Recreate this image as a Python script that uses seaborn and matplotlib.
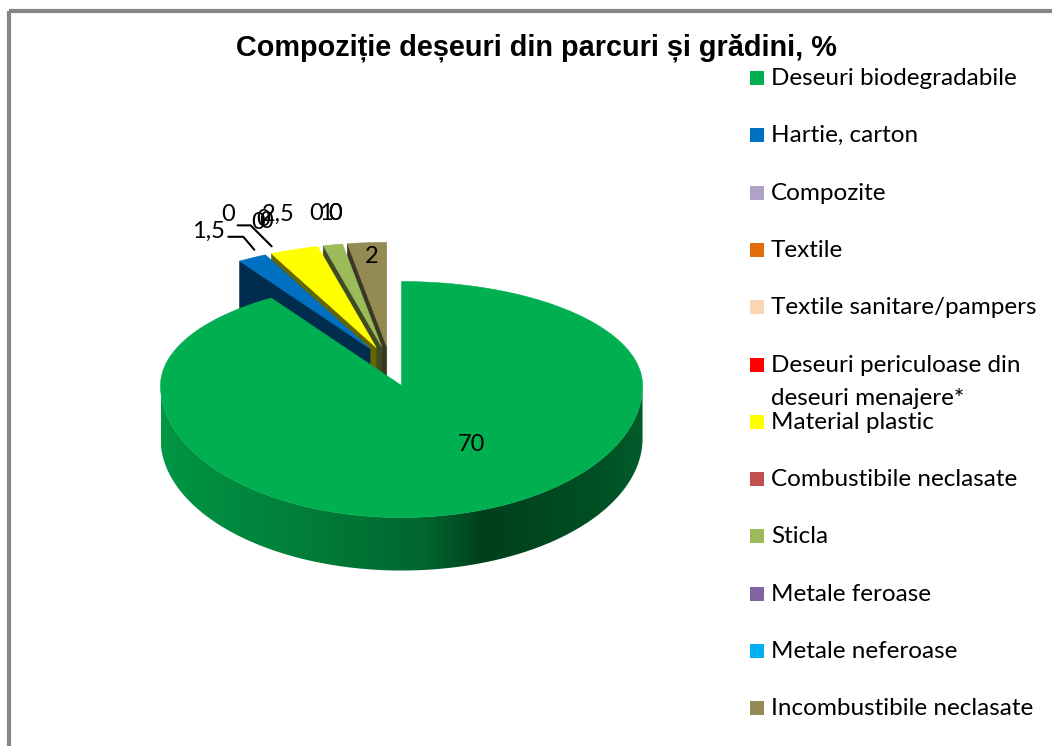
import numpy as np
import matplotlib
matplotlib.use("Agg")
import matplotlib.pyplot as plt
import matplotlib.colors as mcolors
from matplotlib.patches import Polygon, Rectangle
import seaborn as sns

# Data
categories = ["Deseuri biodegradabile", "Hartie, carton", "Compozite", "Textile",
              "Textile sanitare/pampers", "Deseuri periculoase din\ndeseuri menajere*",
              "Material plastic", "Combustibile neclasate", "Sticla", "Metale feroase",
              "Metale neferoase", "Incombustibile neclasate"]
values = [70, 1.5, 0, 0, 0, 0, 2.5, 0, 1, 0, 0, 2]
value_labels = ["70", "1,5", "0", "0", "0", "0", "2,5", "0", "1", "0", "0", "2"]
colors = ["#00B050", "#0070C0", "#B2A1C7", "#E46C0A", "#FCD5B5", "#FF0000",
          "#FFFF00", "#C0504D", "#9BBB59", "#8064A2", "#00B0F0", "#948A54"]
title = "Compoziție deșeuri din parcuri și grădini, %"

# label placement (pixels, relative to the rim point on each slice bisector)
label_nudge = [(2, -68), (-44, -26), (-40, -40), (-10, -32), (-5, -35), (-2, -33),
               (-16, -35), (-6, -32), (-7, -31), (-9, -30), (-9, -30), (5, 14)]
leaders = {1: "right", 3: "left"}

sns.set_theme(style="white")
plt.rcParams["font.family"] = ["Lato", "DejaVu Sans"]

W, H = 1052, 746
fig = plt.figure(figsize=(W / 100, H / 100), dpi=100)
ax = fig.add_axes([0, 0, 1, 1])

# outer frame
ax.add_patch(Rectangle((8.5, 11), W, H, fill=False, edgecolor="#868686", lw=3))

# pseudo 3D pie geometry
CX, CY = 390, 364
RX, RY_BACK, RY_FRONT, DEPTH = 241, 104, 132, 53
EXPLODE = 0.17


def rim(theta, ox, oy):
    t = np.radians(theta)
    ry = np.where(np.cos(t) >= 0, RY_BACK, RY_FRONT)
    return CX + ox + RX * np.sin(t), CY + oy - ry * np.cos(t)


def shade(c, f):
    r, g, b = mcolors.to_rgb(c)
    return (r * f, g * f, b * f)


total = sum(values)
edges = np.concatenate([[0], np.cumsum(values)]) / total * 360
mids = (edges[:-1] + edges[1:]) / 2

offsets = []
for m in mids:
    t = np.radians(m)
    ry = RY_BACK if np.cos(t) >= 0 else RY_FRONT
    offsets.append((EXPLODE * RX * np.sin(t), -EXPLODE * ry * np.cos(t)))

# wall shading profile (angle -> brightness)
wall_deg = [90, 110, 140, 160, 175, 200, 230, 270]
wall_f = [0.55, 0.5, 0.42, 0.36, 0.58, 0.7, 0.8, 0.87]

z = 2
order = sorted(range(len(values)), key=lambda i: -np.cos(np.radians(mids[i])))
for i in order:
    if values[i] == 0:
        continue
    a0, a1 = edges[i], edges[i + 1]
    ox, oy = offsets[i]
    ax_, ay_ = CX + ox, CY + oy
    col = colors[i]
    # cut faces
    for a, vis in ((a0, np.sin(np.radians(a0)) < -1e-6), (a1, np.sin(np.radians(a1)) > 1e-6)):
        if vis:
            px, py = rim(a, ox, oy)
            ax.add_patch(Polygon([(ax_, ay_), (px, py), (px, py + DEPTH), (ax_, ay_ + DEPTH)],
                                 closed=True, fc=shade(col, 0.4), ec=shade(col, 0.4),
                                 lw=0.5, zorder=z))
            z += 1
    # outer wall on the front half, gradient clipped to the wall outline
    lo, hi = max(a0, 90), min(a1, 270)
    if hi > lo:
        th = np.linspace(lo, hi, 200)
        tx, ty = rim(th, ox, oy)
        pts = list(zip(tx, ty)) + list(zip(tx[::-1], ty[::-1] + DEPTH))
        wall = Polygon(pts, closed=True, fc="none", ec="none", zorder=z)
        ax.add_patch(wall)
        xg = np.linspace(tx.min(), tx.max(), 400)
        fg = np.interp(xg, tx[::-1], np.interp(th, wall_deg, wall_f)[::-1])
        img = np.array([shade(col, f) for f in fg])[None, :, :]
        im = ax.imshow(img, extent=(tx.min(), tx.max(), ty.max() + DEPTH, ty.min()),
                       aspect="auto", interpolation="bilinear", zorder=z)
        im.set_clip_path(wall)
        z += 1
    # top face
    th = np.linspace(a0, a1, max(int(a1 - a0) * 2, 4))
    xs, ys = rim(th, ox, oy)
    pts = [(ax_, ay_)] + list(zip(xs, ys))
    ax.add_patch(Polygon(pts, closed=True, fc=col, ec=col, lw=0.4, zorder=z))
    z += 1

ax.set_xlim(0, W)
ax.set_ylim(H, 0)
ax.axis("off")

# data labels
for i, lab in enumerate(value_labels):
    ox, oy = offsets[i]
    rx_, ry_ = rim(mids[i], ox, oy)
    lx, ly = rx_ + label_nudge[i][0], ry_ + label_nudge[i][1]
    ax.text(lx, ly, lab, fontsize=17, ha="center", va="center", color="black", zorder=100)
    if leaders.get(i) == "right":
        ax.plot([lx + 20, lx + 35, rx_ + 2], [ly + 5, ly + 5, ry_ - 8], color="black",
                lw=1.5, zorder=100)
    elif leaders.get(i) == "left":
        ax.plot([lx - 20, lx - 7, rx_ + 4], [ly + 3, ly + 3, ry_ - 8], color="black",
                lw=1.5, zorder=100)

# title
ax.text(536, 48, title, fontsize=20.8, fontweight="bold", ha="center", va="center",
        family=["Liberation Sans", "DejaVu Sans"], color="black", zorder=100)

# legend
for i, (name, col) in enumerate(zip(categories, colors)):
    y = 78 + i * 57.3
    ax.add_patch(Rectangle((750, y - 7), 14, 14, fc=col, ec="none", zorder=100))
    ax.text(771, y - 10, name, fontsize=17.5, ha="left", va="top", color="black",
            linespacing=1.75, zorder=100)

fig.savefig("out.png", dpi=100)
